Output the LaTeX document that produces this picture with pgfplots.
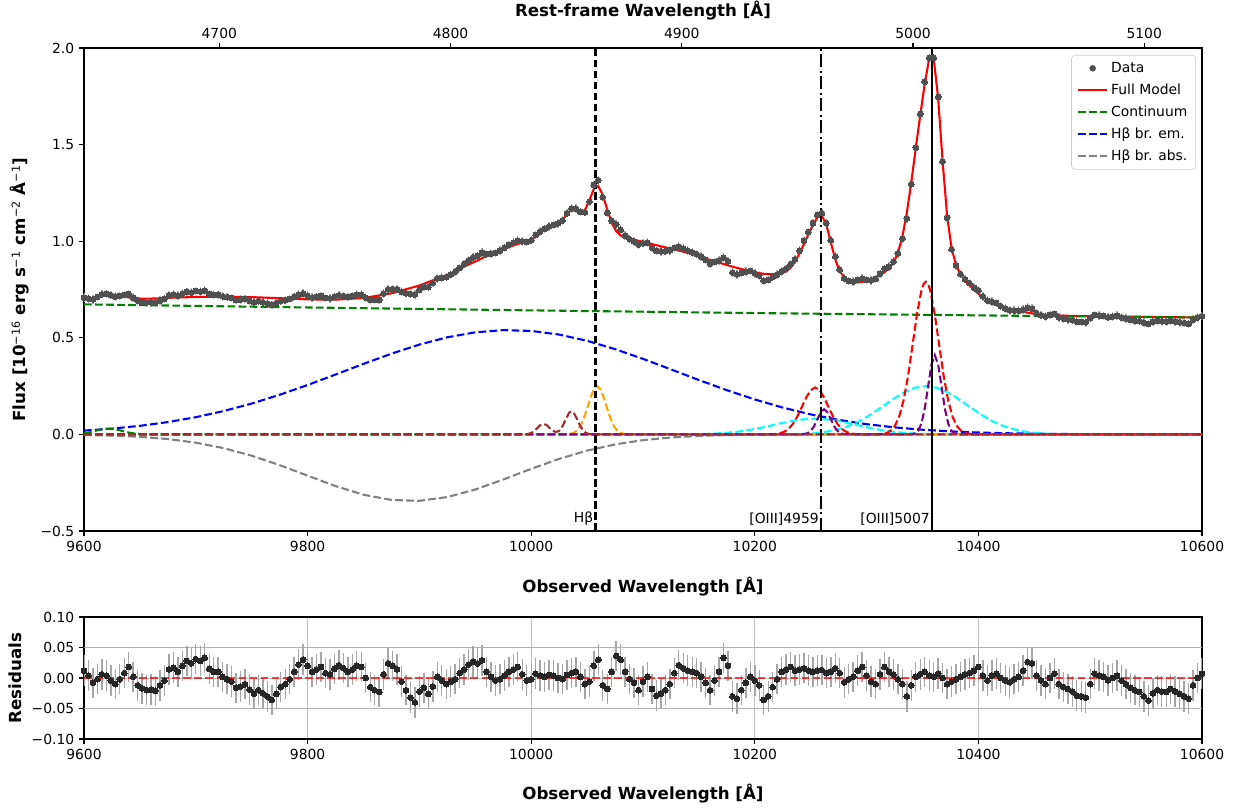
\documentclass[border=0pt]{standalone}
\usepackage{fontspec}
\setmainfont{DejaVu Sans}
\usepackage{pgfplots}
\usepackage{pgfplotstable}
\pgfplotsset{compat=1.18}

\definecolor{mplgreen}{RGB}{0,128,0}
\definecolor{mplorange}{RGB}{255,165,0}
\definecolor{mplbrown}{RGB}{165,42,42}
\definecolor{mplpurple}{RGB}{128,0,128}
\definecolor{mplcyan}{RGB}{0,255,255}
\definecolor{mplgray}{RGB}{128,128,128}
\definecolor{datagray}{RGB}{80,80,80}
\definecolor{errgray}{RGB}{175,175,175}

\tikzset{mpldash/.style={dash pattern=on 5.55pt off 2.4pt},
         mpldashdot/.style={dash pattern=on 9.6pt off 2.4pt on 1.5pt off 2.4pt}}

\pgfplotstableread{
x m d r
9600 0.6955 0.7075 0.012
9604 0.7003 0.7043 0.004
9608 0.7067 0.6987 -0.008
9612 0.7135 0.7115 -0.002
9616 0.7197 0.7257 0.006
9620 0.7238 0.7278 0.004
9624 0.7249 0.7209 -0.004
9628 0.7228 0.7128 -0.010
9632 0.7184 0.7164 -0.002
9636 0.7134 0.7214 0.008
9640 0.7089 0.7269 0.018
9644 0.7057 0.7077 0.002
9648 0.7041 0.6921 -0.012
9652 0.7025 0.6855 -0.017
9656 0.7027 0.6827 -0.020
9660 0.7029 0.6839 -0.019
9664 0.7038 0.6828 -0.021
9668 0.7047 0.6927 -0.012
9672 0.7058 0.7018 -0.004
9676 0.7069 0.7209 0.014
9680 0.7078 0.7248 0.017
9684 0.7085 0.7185 0.010
9688 0.7092 0.7292 0.020
9692 0.7099 0.7379 0.028
9696 0.7108 0.7348 0.024
9700 0.7111 0.7421 0.031
9704 0.7114 0.7394 0.028
9708 0.7116 0.7446 0.033
9712 0.7119 0.7269 0.015
9716 0.7122 0.7222 0.010
9720 0.7125 0.7225 0.010
9724 0.7127 0.7147 0.002
9728 0.7125 0.7105 -0.002
9732 0.7122 0.7062 -0.006
9736 0.7118 0.6958 -0.016
9740 0.7114 0.6974 -0.014
9744 0.7111 0.7011 -0.010
9748 0.7107 0.6917 -0.019
9752 0.7101 0.6841 -0.026
9756 0.7092 0.6892 -0.020
9760 0.7083 0.6833 -0.025
9764 0.7074 0.6774 -0.030
9768 0.7065 0.6705 -0.036
9772 0.7057 0.6797 -0.026
9776 0.7048 0.6898 -0.015
9780 0.7038 0.6938 -0.010
9784 0.7028 0.7008 -0.002
9788 0.7018 0.7118 0.010
9792 0.7009 0.7229 0.022
9796 0.6999 0.7299 0.030
9800 0.6989 0.7189 0.020
9804 0.6986 0.7086 0.010
9808 0.6984 0.7124 0.014
9812 0.6981 0.7161 0.018
9816 0.6979 0.7059 0.008
9820 0.6976 0.7036 0.006
9824 0.6973 0.7123 0.015
9828 0.6983 0.7193 0.021
9832 0.6997 0.7157 0.016
9836 0.7010 0.7110 0.010
9840 0.7024 0.7164 0.014
9844 0.7038 0.7238 0.020
9848 0.7051 0.7231 0.018
9852 0.7077 0.7077 0.000
9856 0.7116 0.6966 -0.015
9860 0.7154 0.6954 -0.020
9864 0.7192 0.6962 -0.023
9868 0.7231 0.7291 0.006
9872 0.7269 0.7509 0.024
9876 0.7314 0.7514 0.020
9880 0.7380 0.7520 0.014
9884 0.7445 0.7385 -0.006
9888 0.7510 0.7310 -0.020
9892 0.7575 0.7255 -0.032
9896 0.7641 0.7241 -0.040
9900 0.7706 0.7486 -0.022
9904 0.7795 0.7635 -0.016
9908 0.7883 0.7623 -0.026
9912 0.7972 0.7832 -0.014
9916 0.8061 0.8081 0.002
9920 0.8149 0.8109 -0.004
9924 0.8238 0.8138 -0.010
9928 0.8335 0.8275 -0.006
9932 0.8436 0.8416 -0.002
9936 0.8536 0.8616 0.008
9940 0.8680 0.8820 0.014
9944 0.8790 0.9010 0.022
9948 0.8900 0.9170 0.027
9952 0.9000 0.9240 0.024
9956 0.9120 0.9410 0.029
9960 0.9230 0.9330 0.010
9964 0.9330 0.9350 0.002
9968 0.9430 0.9390 -0.004
9972 0.9530 0.9510 -0.002
9976 0.9620 0.9660 0.004
9980 0.9700 0.9800 0.010
9984 0.9780 0.9920 0.014
9988 0.9860 1.0040 0.018
9992 0.9930 0.9990 0.006
9996 1.0000 0.9960 -0.004
10000 1.0070 1.0050 -0.002
10004 1.0250 1.0320 0.007
10008 1.0450 1.0490 0.004
10012 1.0620 1.0640 0.002
10016 1.0720 1.0770 0.005
10020 1.0800 1.0840 0.004
10024 1.0920 1.0920 0.000
10028 1.1100 1.1080 -0.002
10032 1.1400 1.1450 0.005
10036 1.1620 1.1700 0.008
10040 1.1580 1.1680 0.010
10044 1.1500 1.1520 0.002
10048 1.1600 1.1500 -0.010
10052 1.2109 1.2049 -0.006
10056 1.2707 1.2907 0.020
10060 1.2853 1.3153 0.030
10064 1.2398 1.2278 -0.012
10068 1.1645 1.1465 -0.018
10072 1.0956 1.1056 0.010
10076 1.0516 1.0876 0.036
10080 1.0294 1.0594 0.030
10084 1.0190 1.0290 0.010
10088 1.0128 1.0108 -0.002
10092 1.0073 0.9993 -0.008
10096 1.0019 0.9819 -0.020
10100 0.9961 0.9901 -0.006
10104 0.9905 0.9925 0.002
10108 0.9849 0.9669 -0.018
10112 0.9792 0.9502 -0.029
10116 0.9736 0.9476 -0.026
10120 0.9680 0.9480 -0.020
10124 0.9624 0.9524 -0.010
10128 0.9568 0.9648 0.008
10132 0.9512 0.9722 0.021
10136 0.9456 0.9616 0.016
10140 0.9400 0.9520 0.012
10144 0.9326 0.9426 0.010
10148 0.9252 0.9332 0.008
10152 0.9178 0.9198 0.002
10156 0.9104 0.9024 -0.008
10160 0.9030 0.8830 -0.020
10164 0.8960 0.8920 -0.004
10168 0.8890 0.8990 0.010
10172 0.8820 0.9150 0.033
10176 0.8750 0.8950 0.020
10180 0.8680 0.8380 -0.030
10184 0.8620 0.8280 -0.034
10188 0.8560 0.8360 -0.020
10192 0.8500 0.8420 -0.008
10196 0.8440 0.8460 0.002
10200 0.8380 0.8340 -0.004
10204 0.8346 0.8226 -0.012
10208 0.8312 0.7952 -0.036
10212 0.8294 0.7994 -0.030
10216 0.8292 0.8142 -0.015
10220 0.8291 0.8271 -0.002
10224 0.8342 0.8442 0.010
10228 0.8432 0.8572 0.014
10232 0.8628 0.8808 0.018
10236 0.8944 0.9064 0.012
10240 0.9366 0.9506 0.014
10244 0.9856 1.0016 0.016
10248 1.0354 1.0474 0.012
10252 1.0836 1.0936 0.010
10256 1.1238 1.1358 0.012
10260 1.1325 1.1455 0.013
10264 1.0852 1.0932 0.008
10268 0.9944 1.0044 0.010
10272 0.9043 0.9203 0.016
10276 0.8445 0.8525 0.008
10280 0.8137 0.8067 -0.007
10284 0.7960 0.7940 -0.002
10288 0.7890 0.7910 0.002
10292 0.7870 0.7990 0.012
10296 0.7890 0.8070 0.018
10300 0.7950 0.7990 0.004
10304 0.8030 0.7970 -0.006
10308 0.8140 0.8040 -0.010
10312 0.8250 0.8310 0.006
10316 0.8392 0.8572 0.018
10320 0.8578 0.8678 0.010
10324 0.8878 0.8938 0.006
10328 0.9394 0.9374 -0.002
10332 1.0238 1.0138 -0.010
10336 1.1477 1.1177 -0.030
10340 1.3070 1.2950 -0.012
10344 1.4825 1.4845 0.002
10348 1.6532 1.6592 0.006
10352 1.8150 1.8250 0.010
10356 1.9451 1.9491 0.004
10360 1.9470 1.9490 0.002
10364 1.7397 1.7467 0.007
10368 1.4121 1.4121 0.000
10372 1.1323 1.1223 -0.010
10376 0.9642 0.9582 -0.006
10380 0.8765 0.8745 -0.002
10384 0.8277 0.8297 0.002
10388 0.7971 0.8031 0.006
10392 0.7743 0.7823 0.008
10396 0.7480 0.7600 0.012
10400 0.7280 0.7460 0.018
10404 0.7110 0.7150 0.004
10408 0.6970 0.6930 -0.004
10412 0.6840 0.6880 0.004
10416 0.6730 0.6800 0.007
10420 0.6640 0.6640 0.000
10424 0.6560 0.6520 -0.004
10428 0.6490 0.6420 -0.007
10432 0.6430 0.6410 -0.002
10436 0.6380 0.6400 0.002
10440 0.6340 0.6460 0.012
10444 0.6299 0.6559 0.026
10448 0.6264 0.6504 0.024
10452 0.6235 0.6275 0.004
10456 0.6212 0.6172 -0.004
10460 0.6193 0.6093 -0.010
10464 0.6178 0.6178 0.000
10468 0.6165 0.6235 0.007
10472 0.6155 0.6055 -0.010
10476 0.6146 0.5996 -0.015
10480 0.6139 0.5959 -0.018
10484 0.6132 0.5912 -0.022
10488 0.6126 0.5836 -0.029
10492 0.6121 0.5821 -0.030
10496 0.6120 0.5800 -0.032
10500 0.6117 0.6017 -0.010
10504 0.6114 0.6184 0.007
10508 0.6112 0.6152 0.004
10512 0.6109 0.6129 0.002
10516 0.6106 0.6066 -0.004
10520 0.6104 0.6104 0.000
10524 0.6101 0.6141 0.004
10528 0.6099 0.6059 -0.004
10532 0.6096 0.5996 -0.010
10536 0.6093 0.5933 -0.016
10540 0.6091 0.5891 -0.020
10544 0.6088 0.5858 -0.023
10548 0.6085 0.5785 -0.030
10552 0.6083 0.5713 -0.037
10556 0.6080 0.5830 -0.025
10560 0.6077 0.5877 -0.020
10564 0.6075 0.5855 -0.022
10568 0.6072 0.5842 -0.023
10572 0.6070 0.5890 -0.018
10576 0.6067 0.5847 -0.022
10580 0.6064 0.5804 -0.026
10584 0.6062 0.5762 -0.030
10588 0.6059 0.5719 -0.034
10592 0.6056 0.5936 -0.012
10596 0.6054 0.6054 0.000
10600 0.6051 0.6121 0.007
}\spec

\pgfplotsset{
  mplaxis/.style={
    scale only axis, width=804.96pt,
    xmin=9600, xmax=10600,
    tick align=outside, major tick length=3.5pt,
    tick style={black, line width=0.8pt},
    axis line style={line width=0.8pt},
    /pgf/number format/assume math mode=true,
    /pgf/number format/1000 sep={},
    scaled x ticks=false, scaled y ticks=false,
    tick label style={font=\fontsize{10}{12}\selectfont},
    label style={font=\fontsize{12}{14}\selectfont\bfseries},
    xtick={9600,9800,10000,10200,10400,10600},
    xtick pos=bottom, ytick pos=left,
  }
}

\begin{document}
\begin{tikzpicture}
\useasboundingbox (-60.48pt,-200.16pt) rectangle (830.16pt,382.32pt);

% ---------------- main panel ----------------
\begin{axis}[mplaxis,
  at={(0pt,0pt)}, anchor=south west,
  height=347.76pt,
  ymin=-0.5, ymax=2.0,
  ytick={-0.5,0,0.5,1,1.5,2},
  yticklabels={−0.5,0.0,0.5,1.0,1.5,2.0},
  xlabel={Observed Wavelength [Å]},
  xlabel style={at={(axis description cs:0.5,-0.116)}, anchor=center},
  ylabel={Flux [10\textsuperscript{\normalfont −16} erg s\textsuperscript{\normalfont −1} cm\textsuperscript{\normalfont −2} Å\textsuperscript{\normalfont −1}]},
  ylabel style={at={(axis description cs:-0.0572,0.5)}, anchor=center},
  legend cell align=left,
  legend image code/.code={\draw[#1] plot coordinates {(0pt,0pt) (10.5pt,0pt) (21pt,0pt)};},
  legend style={at={(0.9946,0.9855)}, anchor=north east,
    draw=black!20, rounded corners=2.5pt, fill=white,
    font=\fontsize{10}{12}\selectfont,
    inner xsep=4pt, inner ysep=3pt, row sep=2.7pt,
    /tikz/every even column/.append style={column sep=4pt}},
]
% data with error bars
\addplot[only marks, mark=*, mark size=2.1pt,
  mark options={fill=datagray, draw=datagray, line width=0pt},
  legend image code/.code={\fill[datagray] (10.5pt,0pt) circle (2.1pt);},
  error bars/.cd, y dir=both, y fixed=0.022, error mark=none,
  error bar style={line width=1pt, color=errgray}]
  table[x=x, y=d] {\spec};
\addlegendentry{Data}

\addplot[red, line width=1.5pt] table[x=x, y=m] {\spec};
\addlegendentry{Full Model}

\addplot[mplgreen, line width=1.5pt, mpldash] coordinates {
(9600,0.673) (9700,0.665) (9800,0.657) (9900,0.6495) (10000,0.642)
(10100,0.635) (10200,0.628) (10300,0.622) (10400,0.616) (10500,0.6105) (10600,0.605)};
\addlegendentry{Continuum}

\addplot[blue, line width=1.5pt, mpldash] coordinates {
(9600,0.0197) (9625,0.0299) (9650,0.0443) (9675,0.0637) (9700,0.0890)
(9725,0.1210) (9750,0.1597) (9775,0.2050) (9800,0.2556) (9825,0.3099)
(9850,0.3650) (9875,0.4179) (9900,0.4649) (9925,0.5027) (9950,0.5283)
(9975,0.5396) (10000,0.5356) (10025,0.5167) (10050,0.4844) (10075,0.4413)
(10100,0.3909) (10125,0.3364) (10150,0.2813) (10175,0.2287) (10200,0.1807)
(10225,0.1387) (10250,0.1035) (10275,0.0751) (10300,0.0529) (10325,0.0362)
(10350,0.0241) (10375,0.0156) (10400,0.0098) (10425,0.0060) (10450,0.0036)
(10475,0.0021) (10500,0.0012) (10550,0.0003) (10600,0.0001)};
\addlegendentry{Hβ br. em.}

\addplot[mplgray, line width=1.5pt, mpldash] coordinates {
(9600,-0.0028) (9625,-0.0061) (9650,-0.0126) (9675,-0.0240) (9700,-0.0429)
(9725,-0.0712) (9750,-0.1102) (9775,-0.1590) (9800,-0.2137) (9825,-0.2676)
(9850,-0.3122) (9875,-0.3394) (9900,-0.3438) (9925,-0.3244) (9950,-0.2852)
(9975,-0.2336) (10000,-0.1783) (10025,-0.1268) (10050,-0.0840) (10075,-0.0519)
(10100,-0.0298) (10125,-0.0160) (10150,-0.0080) (10175,-0.0037) (10200,-0.0016)
(10250,-0.0002) (10300,0) (10600,0)};
\addlegendentry{Hβ br. abs.}

% narrow / secondary components
\addplot[mplgreen, line width=1.5pt, mpldash, forget plot] coordinates {
(9600,0.0056) (9604,0.0097) (9608,0.0152) (9612,0.0212) (9616,0.0265) (9620,0.0296)
(9624,0.0296) (9628,0.0265) (9632,0.0212) (9636,0.0152) (9640,0.0097) (9644,0.0055)
(9648,0.0029) (9652,0.0013) (9660,0) (10600,0)};

\addplot[mplcyan, line width=1.5pt, mpldash, forget plot] coordinates {
(9600,0) (10104,0) (10114,0.0001) (10124,0.0002) (10134,0.0004) (10144,0.0010)
(10154,0.0021) (10164,0.0042) (10174,0.0078) (10184,0.0135) (10194,0.0217)
(10204,0.0325) (10214,0.0452) (10224,0.0583) (10234,0.0700) (10244,0.0781)
(10254,0.0810) (10264,0.0781) (10274,0.0700) (10284,0.0583) (10294,0.0452)
(10304,0.0325) (10314,0.0217) (10324,0.0135) (10334,0.0078) (10344,0.0042)
(10354,0.0021) (10364,0.0010) (10374,0.0004) (10384,0.0002) (10394,0.0001) (10404,0) (10600,0)};

\addplot[mplcyan, line width=1.5pt, mpldash, forget plot] coordinates {
(9600,0) (10203,0) (10213,0.0002) (10223,0.0005) (10233,0.0013) (10243,0.0030)
(10253,0.0065) (10263,0.0130) (10273,0.0242) (10283,0.0418) (10293,0.0671)
(10303,0.1003) (10313,0.1394) (10323,0.1800) (10333,0.2160) (10343,0.2410)
(10353,0.2500) (10363,0.2410) (10373,0.2160) (10383,0.1800) (10393,0.1394)
(10403,0.1003) (10413,0.0671) (10423,0.0418) (10433,0.0242) (10443,0.0130)
(10453,0.0065) (10463,0.0030) (10473,0.0013) (10483,0.0005) (10493,0.0002) (10503,0) (10600,0)};

\addplot[mplorange, line width=1.5pt, mpldash, forget plot] coordinates {
(9600,0) (10030,0) (10035,0.0028) (10038,0.0080) (10041,0.0199) (10044,0.0431)
(10047,0.0812) (10050,0.1328) (10053,0.1887) (10056,0.2330) (10059,0.2500)
(10062,0.2330) (10065,0.1887) (10068,0.1328) (10071,0.0812) (10074,0.0431)
(10077,0.0199) (10080,0.0080) (10083,0.0028) (10088,0) (10600,0)};

\addplot[red, line width=1.5pt, mpldash, forget plot] coordinates {
(9600,0) (10210,0) (10214,0.0006) (10218,0.0018) (10222,0.0051) (10226,0.0125)
(10230,0.0275) (10234,0.0536) (10238,0.0923) (10242,0.1410) (10246,0.1908)
(10250,0.2287) (10254,0.2430) (10258,0.2287) (10262,0.1908) (10266,0.1410)
(10270,0.0923) (10274,0.0536) (10278,0.0275) (10282,0.0125) (10286,0.0051)
(10290,0.0018) (10294,0.0006) (10298,0) (10310,0) (10313,0.0019) (10317,0.0059)
(10321,0.0164) (10325,0.0408) (10329,0.0895) (10333,0.1741) (10337,0.3001)
(10341,0.4584) (10345,0.6202) (10349,0.7436) (10351,0.7781) (10353,0.7900)
(10355,0.7781) (10357,0.7436) (10361,0.6202) (10365,0.4584) (10369,0.3001)
(10373,0.1741) (10377,0.0895) (10381,0.0408) (10385,0.0164) (10389,0.0059)
(10393,0.0019) (10397,0) (10600,0)};

\addplot[mplpurple, line width=1.5pt, mpldash, forget plot] coordinates {
(9600,0) (10238,0) (10241,0.0003) (10244,0.0014) (10247,0.0057) (10250,0.0176)
(10253,0.0422) (10256,0.0788) (10259,0.1147) (10262,0.1300) (10265,0.1147)
(10268,0.0788) (10271,0.0422) (10274,0.0176) (10277,0.0057) (10280,0.0014)
(10283,0.0003) (10286,0) (10337,0) (10340,0.0009) (10343,0.0046) (10346,0.0180)
(10349,0.0555) (10352,0.1331) (10355,0.2487) (10358,0.3618) (10361,0.4100)
(10364,0.3618) (10367,0.2487) (10370,0.1331) (10373,0.0555) (10376,0.0180)
(10379,0.0046) (10382,0.0009) (10385,0) (10600,0)};

\addplot[mplbrown, line width=1.5pt, mpldash, forget plot] coordinates {
(9600,0) (9990,0) (9996,0.0013) (9999,0.0051) (10002,0.0144) (10005,0.0303)
(10008,0.0474) (10011,0.0550) (10014,0.0474) (10017,0.0303) (10019,0.0201)
(10022,0.0121) (10025,0.0184) (10028,0.0422) (10031,0.0794) (10034,0.1123)
(10036,0.1200) (10038,0.1123) (10041,0.0794) (10044,0.0417) (10047,0.0162)
(10050,0.0047) (10053,0.0010) (10058,0) (10600,0)};

% line markers
\addplot[black, line width=1.5pt, mpldash, forget plot] coordinates {(10057.5,-0.5) (10057.5,2.0)};
\addplot[black, line width=1.5pt, mpldashdot, forget plot] coordinates {(10259.3,-0.5) (10259.3,2.0)};
\addplot[black, line width=1.5pt, forget plot] coordinates {(10358.6,-0.5) (10358.6,2.0)};

\node[anchor=south east, inner sep=1.5pt, font=\fontsize{10}{12}\selectfont] at (axis cs:10057.5,-0.485) {Hβ};
\node[anchor=south east, inner sep=1.5pt, font=\fontsize{10}{12}\selectfont] at (axis cs:10259.3,-0.485) {[OIII]4959};
\node[anchor=south east, inner sep=1.5pt, font=\fontsize{10}{12}\selectfont] at (axis cs:10358.6,-0.485) {[OIII]5007};
\end{axis}

% ---------------- top (rest-frame) axis ----------------
\begin{axis}[
  at={(0pt,0pt)}, anchor=south west,
  scale only axis, width=804.96pt, height=347.76pt,
  xmin=4641.49, xmax=5124.98, ymin=0, ymax=1,
  axis x line*=top, axis y line=none,
  tick align=outside, major tick length=3.5pt,
  tick style={black, line width=0.8pt},
  axis line style={line width=0.8pt},
  /pgf/number format/assume math mode=true,
  /pgf/number format/1000 sep={},
  scaled x ticks=false,
  xtick={4700,4800,4900,5000,5100},
  tick label style={font=\fontsize{10}{12}\selectfont},
  xlabel={Rest-frame Wavelength [Å]},
  label style={font=\fontsize{12}{14}\selectfont\bfseries},
  xlabel style={at={(axis description cs:0.5,1.0766)}, anchor=center},
]
\addplot[draw=none, forget plot] coordinates {(4700,0.5) (5100,0.5)};
\end{axis}

% ---------------- residual panel ----------------
\begin{axis}[mplaxis,
  at={(0pt,-61.92pt)}, anchor=north west,
  height=87.84pt,
  ymin=-0.1, ymax=0.1,
  ytick={-0.1,-0.05,0,0.05,0.1},
  yticklabels={−0.10,−0.05,0.00,0.05,0.10},
  grid=major, grid style={black!25, line width=0.6pt},
  xlabel={Observed Wavelength [Å]},
  xlabel style={at={(axis description cs:0.5,-0.451)}, anchor=center},
  ylabel={Residuals},
  ylabel style={at={(axis description cs:-0.0617,0.5)}, anchor=center},
]
\addplot[black!30, line width=1.2pt, forget plot] coordinates {(9600,0.05) (10600,0.05)};
\addplot[black!30, line width=1.2pt, forget plot] coordinates {(9600,-0.05) (10600,-0.05)};
\addplot[only marks, mark=*, mark size=2.1pt,
  mark options={fill=black!85, draw=black!85, line width=0pt},
  error bars/.cd, y dir=both, y fixed=0.025, error mark=none,
  error bar style={line width=1pt, color=black!35}]
  table[x=x, y=r] {\spec};
\addplot[red, opacity=0.75, line width=1.2pt, mpldash] coordinates {(9600,0) (10600,0)};
\end{axis}
\end{tikzpicture}
\end{document}
